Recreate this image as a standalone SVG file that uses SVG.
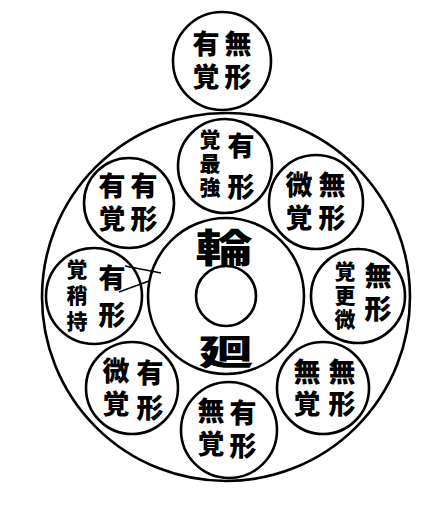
<svg xmlns="http://www.w3.org/2000/svg" width="446" height="523" viewBox="0 0 446 523">
<style>
.c{fill:none;stroke:#000;stroke-width:2.6}
.t{font-family:"Noto Sans CJK JP","Noto Sans CJK SC",sans-serif;font-weight:900;font-size:27px;fill:#000;text-anchor:middle;dominant-baseline:central}
.v{writing-mode:vertical-rl;letter-spacing:6px}
.s{font-size:21px;letter-spacing:3px}
.b{font-size:44px}
.ln{stroke:#000;stroke-width:1.4;fill:none}
</style>
<rect width="446" height="523" fill="#fff"/>
<g id="wheel">
<circle class="c" cx="226" cy="297" r="184"/>
<circle class="c" cx="226" cy="296" r="78"/>
<circle class="c" cx="226" cy="296" r="30"/>
<text class="t b" transform="translate(224,245) scale(1.3,0.88)">輪</text>
<text class="t b" transform="translate(226,349) scale(1.25,0.8)">廻</text>
</g>
<g id="n0">
<circle class="c" cx="222" cy="61" r="49"/>
<text class="t v" x="238" y="63">無形</text>
<text class="t v" x="206" y="63">有覚</text>
</g>
<g id="n1">
<circle class="c" cx="225" cy="166" r="47"/>
<text class="t v" x="241" y="173" style="letter-spacing:14px">有形</text>
<text class="t v s" x="210" y="165">覚最強</text>
</g>
<g id="n2">
<circle class="c" cx="129" cy="203" r="45"/>
<text class="t v" x="144" y="205">有形</text>
<text class="t v" x="112" y="205">有覚</text>
</g>
<g id="n3">
<circle class="c" cx="316" cy="202" r="47"/>
<text class="t v" x="332" y="204">無形</text>
<text class="t v" x="299" y="204">微覚</text>
</g>
<g id="n4">
<circle class="c" cx="94" cy="296" r="48"/>
<text class="t v" x="112" y="301" style="letter-spacing:10px">有形</text>
<text class="t v s" x="77" y="298" style="letter-spacing:5px">覚稍持</text>
</g>
<g id="n5">
<circle class="c" cx="358" cy="296" r="47"/>
<text class="t v" x="378" y="295">無形</text>
<text class="t v s" x="345" y="297">覚更微</text>
</g>
<g id="n6">
<circle class="c" cx="132" cy="388" r="46"/>
<text class="t v" x="150" y="394" style="letter-spacing:8px">有形</text>
<text class="t v" x="116" y="390">微覚</text>
</g>
<g id="n7">
<circle class="c" cx="323" cy="388" r="46"/>
<text class="t v" x="342" y="390" style="letter-spacing:5px">無形</text>
<text class="t v" x="307" y="390" style="letter-spacing:5px">無覚</text>
</g>
<g id="n8">
<circle class="c" cx="229" cy="430" r="48"/>
<text class="t v" x="243" y="432">有形</text>
<text class="t v" x="211" y="430">無覚</text>
</g>
<g id="connectors">
<path class="ln" d="M125 266 L161 273"/>
<path class="ln" d="M119 292 L149 281"/>
</g>
</svg>
